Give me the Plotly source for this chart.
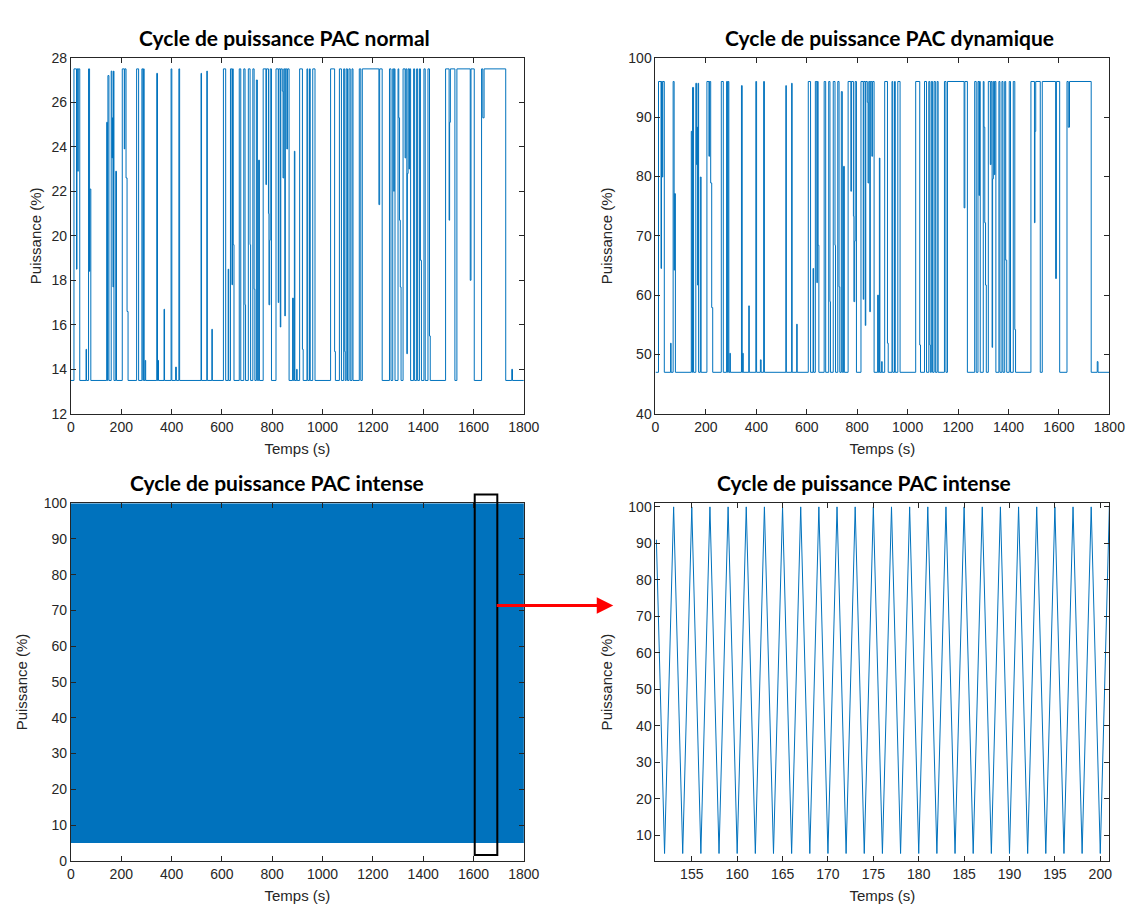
import plotly.graph_objects as go

# ---------------- data ----------------
# Step signals (value holds from each time until the next one)
temps_cycle = [0, 12, 22, 24, 27, 29, 35, 60, 62, 70, 74, 75, 79, 142, 145, 147, 151, 160, 163, 165,
               167, 169, 171, 178, 181, 204, 212, 214, 219, 223, 227, 261, 269, 282, 286, 288, 291, 295, 297, 341,
               344, 346, 348, 370, 372, 398, 401, 416, 419, 429, 432, 517, 519, 540, 542, 560, 562, 606, 615, 625,
               627, 634, 640, 642, 645, 648, 669, 675, 687, 692, 694, 705, 712, 714, 723, 728, 731, 737, 741, 746,
               749, 764, 775, 777, 785, 787, 790, 792, 797, 815, 824, 826, 832, 834, 840, 843, 846, 850, 852, 858,
               861, 867, 881, 884, 888, 890, 897, 899, 909, 920, 923, 938, 941, 948, 951, 961, 970, 1032, 1048, 1051,
               1067, 1075, 1084, 1088, 1090, 1094, 1099, 1105, 1110, 1117, 1121, 1146, 1152, 1158, 1224, 1227, 1237, 1266, 1272, 1279,
               1283, 1285, 1288, 1300, 1303, 1306, 1309, 1312, 1320, 1328, 1331, 1335, 1337, 1340, 1344, 1346, 1350, 1362, 1366, 1374,
               1378, 1385, 1389, 1393, 1403, 1408, 1419, 1425, 1428, 1489, 1503, 1505, 1508, 1526, 1534, 1587, 1590, 1603, 1632, 1637,
               1642, 1728, 1752, 1755, 1800]

puissance_normal = [13.5, 27.5, 18.5, 27.5, 22.9, 27.5, 13.5, 14.9, 13.5, 27.5, 18.4, 22.1, 13.5, 25.1, 13.5, 27.2, 13.5, 27.4, 23.5, 25.3,
                    17.7, 27.4, 13.5, 22.9, 13.5, 27.5, 23.9, 27.5, 22.6, 16.6, 13.5, 27.5, 13.5, 27.5, 13.5, 27.5, 13.5, 14.4, 13.5, 27.3,
                    13.5, 14.4, 13.5, 16.7, 13.5, 27.5, 13.5, 14.1, 13.5, 27.5, 13.5, 27.3, 13.5, 27.4, 13.5, 15.8, 13.5, 27.5, 13.5, 18.5,
                    13.5, 27.5, 17.8, 27.5, 19.6, 13.5, 27.5, 13.5, 27.5, 16.9, 13.5, 27.5, 19.6, 13.5, 27.5, 17.6, 13.5, 27.0, 13.5, 23.4,
                    13.5, 27.5, 22.3, 27.5, 21.0, 16.9, 19.8, 27.5, 13.5, 27.5, 17.0, 27.5, 15.9, 27.5, 26.5, 22.6, 27.5, 16.4, 27.5, 23.9,
                    27.5, 13.5, 17.2, 13.5, 23.8, 13.5, 14.0, 13.5, 27.5, 14.9, 13.5, 27.5, 13.5, 27.5, 13.5, 27.5, 13.5, 27.5, 14.8, 13.5,
                    27.5, 13.5, 27.5, 14.8, 13.5, 27.5, 13.5, 27.5, 13.5, 27.5, 13.5, 27.5, 13.5, 27.5, 21.4, 27.5, 13.5, 27.5, 13.5, 27.5,
                    22.0, 27.5, 13.5, 27.5, 25.3, 20.7, 17.7, 13.5, 27.5, 23.5, 27.5, 14.7, 22.8, 27.5, 23.0, 27.5, 13.5, 27.5, 13.5, 27.5,
                    13.5, 27.5, 18.9, 13.5, 27.5, 13.5, 27.5, 15.5, 13.5, 27.5, 20.7, 25.1, 27.5, 13.5, 27.5, 18.0, 27.5, 13.5, 27.5, 25.3,
                    27.5, 13.5, 14.0, 13.5, 13.5]

puissance_dynamique = [47.0, 96.0, 64.5, 96.0, 79.9, 96.0, 47.0, 51.9, 47.0, 96.0, 64.2, 77.1, 47.0, 87.6, 47.0, 95.0, 47.0, 95.7, 82.0, 88.3,
                       61.7, 95.7, 47.0, 79.9, 47.0, 96.0, 83.4, 96.0, 78.9, 57.9, 47.0, 96.0, 47.0, 96.0, 47.0, 96.0, 47.0, 50.2, 47.0, 95.3,
                       47.0, 50.2, 47.0, 58.2, 47.0, 96.0, 47.0, 49.1, 47.0, 96.0, 47.0, 95.3, 47.0, 95.7, 47.0, 55.1, 47.0, 96.0, 47.0, 64.5,
                       47.0, 96.0, 62.1, 96.0, 68.4, 47.0, 96.0, 47.0, 96.0, 58.9, 47.0, 96.0, 68.4, 47.0, 96.0, 61.4, 47.0, 94.3, 47.0, 81.7,
                       47.0, 96.0, 77.5, 96.0, 73.3, 58.9, 69.1, 96.0, 47.0, 96.0, 59.3, 96.0, 54.9, 96.0, 92.5, 78.9, 96.0, 57.2, 96.0, 83.4,
                       96.0, 47.0, 60.0, 47.0, 83.1, 47.0, 48.8, 47.0, 96.0, 51.9, 47.0, 96.0, 47.0, 96.0, 47.0, 96.0, 47.0, 96.0, 51.6, 47.0,
                       96.0, 47.0, 96.0, 51.6, 47.0, 96.0, 47.0, 96.0, 47.0, 96.0, 47.0, 96.0, 47.0, 96.0, 74.7, 96.0, 47.0, 96.0, 47.0, 96.0,
                       76.8, 96.0, 47.0, 96.0, 88.3, 72.2, 61.7, 47.0, 96.0, 82.0, 96.0, 51.2, 79.6, 96.0, 80.3, 96.0, 47.0, 96.0, 47.0, 96.0,
                       47.0, 96.0, 65.9, 47.0, 96.0, 47.0, 96.0, 54.2, 47.0, 96.0, 72.2, 87.6, 96.0, 47.0, 96.0, 62.8, 96.0, 47.0, 96.0, 88.3,
                       96.0, 47.0, 48.8, 47.0, 47.0]

# Intense cycle: triangle between 5 % (even seconds) and 100 % (odd seconds), read from the zoom
intense_niveaux = [5, 100]          # value at even / odd second
intense_duree = 1800                # s
intense_temps = list(range(0, intense_duree + 1))
intense_puissance = [intense_niveaux[t % 2] for t in intense_temps]

zoom_temps = [151.1, 152, 153, 154, 155, 156, 157, 158, 159, 160, 161, 162, 163, 164, 165, 166, 167, 168, 169, 170,
              171, 172, 173, 174, 175, 176, 177, 178, 179, 180, 181, 182, 183, 184, 185, 186, 187, 188, 189, 190,
              191, 192, 193, 194, 195, 196, 197, 198, 199, 200, 201]
zoom_puissance = [91, 5, 100, 5, 100, 5, 100, 5, 100, 5, 100, 5, 100, 5, 100, 5, 100, 5, 100, 5,
                  100, 5, 100, 5, 100, 5, 100, 5, 100, 5, 100, 5, 100, 5, 100, 5, 100, 5, 100, 5,
                  100, 5, 100, 5, 100, 5, 100, 5, 100, 5, 100]

titres = ["Cycle de puissance PAC normal", "Cycle de puissance PAC dynamique",
          "Cycle de puissance PAC intense", "Cycle de puissance PAC intense"]

# ---------------- figure ----------------
W, H = 1137, 905
BLUE = "#0072BD"
AX = "#262626"

def px_x(p):
    return p / W

def px_y(p):
    return 1 - p / H

fig = go.Figure()
fig.add_trace(go.Scatter(x=temps_cycle, y=puissance_normal, mode="lines", line_shape="hv",
                         line=dict(color=BLUE, width=1), xaxis="x", yaxis="y"))
fig.add_trace(go.Scatter(x=temps_cycle, y=puissance_dynamique, mode="lines", line_shape="hv",
                         line=dict(color=BLUE, width=1), xaxis="x2", yaxis="y2"))
fig.add_trace(go.Scatter(x=intense_temps, y=intense_puissance, mode="lines",
                         line=dict(color=BLUE, width=1.5), xaxis="x3", yaxis="y3"))
fig.add_trace(go.Scatter(x=zoom_temps, y=zoom_puissance, mode="lines",
                         line=dict(color=BLUE, width=1), xaxis="x4", yaxis="y4"))

left_dom = [px_x(60), px_x(521)]
right_dom = [px_x(655), px_x(1117)]
top_dom = [px_y(405), px_y(42.5)]
bot_dom = [px_y(860), px_y(496)]

tickfont = dict(family="Liberation Sans, Arial, sans-serif", size=14, color=AX)
titlefont = dict(family="Liberation Sans, Arial, sans-serif", size=15, color=AX)

def axis(domain, anchor, rng, **kw):
    d = dict(domain=domain, anchor=anchor, range=rng, showline=True, linecolor=AX, linewidth=1,
             mirror="ticks", ticks="inside", ticklen=5, tickcolor=AX, showgrid=False, zeroline=False,
             tickfont=tickfont, fixedrange=True)
    d.update(kw)
    return d

def xt():
    return dict(text="Temps (s)", font=titlefont, standoff=9)

def yt(s):
    return dict(text="Puissance (%)", font=titlefont, standoff=s)

fig.update_layout(
    width=W, height=H, margin=dict(l=0, r=0, t=0, b=0),
    paper_bgcolor="white", plot_bgcolor="white", showlegend=False,
    xaxis=axis(left_dom, "y", [0, 1800], dtick=200, title=xt()),
    yaxis=axis(top_dom, "x", [12, 28], dtick=2, title=yt(6)),
    xaxis2=axis(right_dom, "y2", [0, 1800], dtick=200, title=xt()),
    yaxis2=axis(top_dom, "x2", [40, 100], dtick=10, title=yt(12)),
    xaxis3=axis(left_dom, "y3", [0, 1800], dtick=200, title=xt()),
    yaxis3=axis(bot_dom, "x3", [0, 100], dtick=10, title=yt(12)),
    xaxis4=axis(right_dom, "y4", [151, 201], tickvals=list(range(155, 201, 5)), title=xt()),
    yaxis4=axis(bot_dom, "x4", [3, 101], tickvals=list(range(10, 101, 10)), title=yt(12)),
)

title_font = dict(family="Lato, Open Sans, sans-serif", size=21, color="black")
title_pos = [(277, 22), (893, 22), (270, 475), (867, 475)]
for txt, (cx, cy) in zip(titres, title_pos):
    fig.add_annotation(text="<b>%s</b>" % txt, x=px_x(cx), y=px_y(cy), xref="paper", yref="paper",
                       showarrow=False, font=title_font, xanchor="center", yanchor="middle")

# zoom rectangle and arrow
fig.add_shape(type="rect", xref="paper", yref="paper",
              x0=px_x(471), x1=px_x(494), y0=px_y(854), y1=px_y(487),
              line=dict(color="black", width=2), fillcolor="rgba(0,0,0,0)")
fig.add_annotation(x=px_x(612), y=px_y(600), xref="paper", yref="paper", text="",
                   showarrow=True, ax=-118, ay=0, arrowcolor="red", arrowwidth=3,
                   arrowhead=2, arrowsize=1.1, standoff=0)

fig.write_html("out.html")
